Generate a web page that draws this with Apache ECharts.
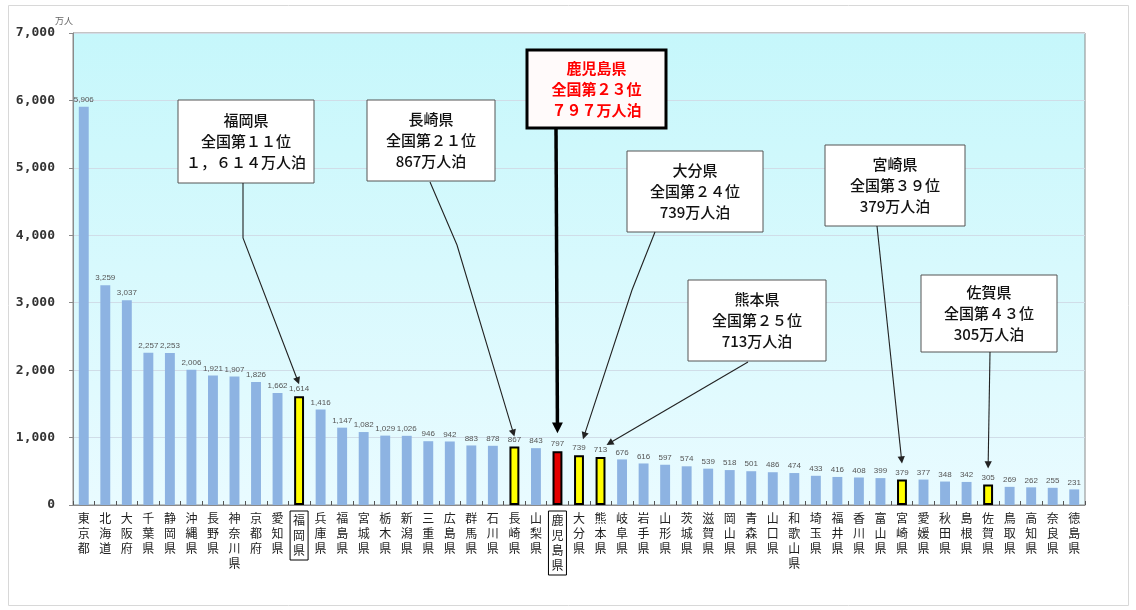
<!DOCTYPE html>
<html>
<head>
<meta charset="utf-8">
<script src="https://cdn.jsdelivr.net/npm/echarts@6/dist/echarts.min.js"></script>
<style>
  html, body { margin: 0; padding: 0; background: #ffffff; }
  #chart { width: 1136px; height: 610px; }
</style>
</head>
<body>
<div id="chart"></div>
<script>
// 都道府県別 延べ宿泊者数（万人泊）
const prefectures = [
  '東京都', '北海道', '大阪府', '千葉県', '静岡県', '沖縄県', '長野県', '神奈川県', '京都府', '愛知県',
  '福岡県', '兵庫県', '福島県', '宮城県', '栃木県', '新潟県', '三重県', '広島県', '群馬県', '石川県',
  '長崎県', '山梨県', '鹿児島県', '大分県', '熊本県', '岐阜県', '岩手県', '山形県', '茨城県', '滋賀県',
  '岡山県', '青森県', '山口県', '和歌山県', '埼玉県', '福井県', '香川県', '富山県', '宮崎県', '愛媛県',
  '秋田県', '島根県', '佐賀県', '鳥取県', '高知県', '奈良県', '徳島県'
];
const guestNights = [
  5906, 3259, 3037, 2257, 2253, 2006, 1921, 1907, 1826, 1662,
  1614, 1416, 1147, 1082, 1029, 1026, 946, 942, 883, 878,
  867, 843, 797, 739, 713, 676, 616, 597, 574, 539,
  518, 501, 486, 474, 433, 416, 408, 399, 379, 377,
  348, 342, 305, 269, 262, 255, 231
];
const yTicks = [0, 1000, 2000, 3000, 4000, 5000, 6000, 7000];

// 九州の県（吹き出しで強調）
const kyushuPrefs = ['福岡県', '長崎県', '鹿児島県', '大分県', '熊本県', '宮崎県', '佐賀県'];
const mainPref = '鹿児島県';
const boxedLabels = ['福岡県', '鹿児島県'];

const BAR_COLOR = '#8db3e2';
const FONT = '"Noto Sans CJK JP", "Noto Sans", sans-serif';

function toFullWidth(s) {
  return String(s).replace(/[0-9]/g, d => String.fromCharCode(d.charCodeAt(0) + 0xFEE0)).replace(/,/g, '，');
}
function comma(v) { return v.toLocaleString('en-US'); }

const barData = guestNights.map((v, i) => {
  const name = prefectures[i];
  if (name === mainPref) {
    return { value: v, itemStyle: { color: '#e30000', borderColor: '#000', borderWidth: 2 } };
  }
  if (kyushuPrefs.includes(name)) {
    return { value: v, itemStyle: { color: '#ffff00', borderColor: '#000', borderWidth: 2 } };
  }
  return v;
});

const categoryData = prefectures.map(p => {
  const item = { value: p };
  if (boxedLabels.includes(p)) {
    item.textStyle = { borderColor: '#000', borderWidth: 1, padding: [2, 3, 2, 3] };
  }
  return item;
});

const chart = echarts.init(document.getElementById('chart'), null, { renderer: 'canvas' });

chart.setOption({
  backgroundColor: '#ffffff',
  animation: false,
  grid: {
    left: 73, right: 51, top: 33, bottom: 105,
    show: true,
    borderColor: '#8a8a8a', borderWidth: 1,
    backgroundColor: {
      type: 'linear', x: 0, y: 0, x2: 0, y2: 1,
      colorStops: [{ offset: 0, color: '#c6f7fb' }, { offset: 1, color: '#e9fbff' }]
    }
  },
  xAxis: {
    type: 'category',
    data: categoryData,
    axisLine: { show: true, lineStyle: { color: '#8a8a8a' } },
    axisTick: { show: true, inside: true, length: 4, lineStyle: { color: '#555' } },
    axisLabel: {
      interval: 0,
      fontFamily: FONT, fontSize: 12, lineHeight: 15, color: '#222',
      margin: 6,
      formatter: v => v.split('').join('\n')
    }
  },
  yAxis: {
    type: 'value',
    min: yTicks[0], max: yTicks[yTicks.length - 1], interval: 1000,
    name: '万人',
    nameLocation: 'end',
    nameGap: 8,
    nameTextStyle: { fontFamily: FONT, fontSize: 9, color: '#666', align: 'right', padding: [0, 0, 0, 0] },
    axisLine: { show: true, lineStyle: { color: '#8a8a8a' } },
    axisTick: { show: true, length: 4, lineStyle: { color: '#8a8a8a' } },
    axisLabel: {
      fontFamily: '"DejaVu Sans Mono", monospace', fontSize: 13, fontWeight: 'bold', color: '#333',
      margin: 18,
      formatter: v => comma(v)
    },
    splitLine: { show: true, lineStyle: { color: '#d0dde8', width: 1 } }
  },
  series: [{
    type: 'bar',
    data: barData,
    barWidth: '46%',
    itemStyle: { color: BAR_COLOR },
    label: {
      show: true, position: 'top', distance: 3,
      fontFamily: '"Liberation Sans", Arial, sans-serif', fontSize: 8, color: '#555',
      formatter: p => comma(p.value)
    }
  }]
});

// 吹き出し（ボックス位置と矢印の折れ点はレイアウト用の定数）
const callouts = [
  { pref: '福岡県', box: [178, 100, 136, 83], from: [243, 183], bend: [243, 238], lift: 12, wide: true },
  { pref: '長崎県', box: [367, 100, 128, 81], from: [430, 182], bend: [457, 245], lift: 10 },
  { pref: '鹿児島県', box: [527, 50, 139, 78], from: [556, 129], lift: 18, main: true, wide: true },
  { pref: '大分県', box: [627, 151, 136, 81], from: [655, 232], bend: [632, 290], lift: 16, dx: 4 },
  { pref: '熊本県', box: [688, 280, 138, 81], from: [748, 362], lift: 12, dx: 6 },
  { pref: '宮崎県', box: [825, 145, 140, 81], from: [877, 226], lift: 16 },
  { pref: '佐賀県', box: [921, 275, 136, 77], from: [990, 352], lift: 16 }
];

function arrowHead(tip, prev, size, color) {
  const ang = Math.atan2(tip[1] - prev[1], tip[0] - prev[0]);
  const a1 = ang + Math.PI * 0.85, a2 = ang - Math.PI * 0.85;
  return {
    type: 'polygon', silent: true, z: 20,
    shape: { points: [tip, [tip[0] + size * Math.cos(a1), tip[1] + size * Math.sin(a1)], [tip[0] + size * Math.cos(a2), tip[1] + size * Math.sin(a2)]] },
    style: { fill: color }
  };
}

const graphics = [];
callouts.forEach(c => {
  const idx = prefectures.indexOf(c.pref);
  const val = guestNights[idx];
  const rank = idx + 1;
  const barTop = chart.convertToPixel({ xAxisIndex: 0, yAxisIndex: 0 }, [idx, val]);
  const tip = [barTop[0] + (c.dx || 0), barTop[1] - c.lift];
  const valText = c.wide ? toFullWidth(comma(val)) : String(val);
  const text = c.pref + '\n全国第' + toFullWidth(rank) + '位\n' + valText + '万人泊';
  const [bx, by, bw, bh] = c.box;
  const color = c.main ? '#000' : '#222';
  const lw = c.main ? 3.5 : 1.1;

  graphics.push({
    type: 'rect', z: 10, silent: true,
    shape: { x: bx, y: by, width: bw, height: bh },
    style: { fill: c.main ? '#fffafa' : '#ffffff', stroke: c.main ? '#000' : '#555', lineWidth: c.main ? 3 : 1 }
  });
  graphics.push({
    type: 'text', z: 11, silent: true,
    x: bx + bw / 2, y: by + bh / 2,
    style: {
      text: text, align: 'center', verticalAlign: 'middle',
      font: (c.main ? 'bold ' : '500 ') + '15px ' + FONT,
      lineHeight: 21,
      fill: c.main ? '#ff0000' : '#111'
    }
  });
  const pts = [c.from];
  if (c.bend) pts.push(c.bend);
  const last = pts[pts.length - 1];
  const ang = Math.atan2(tip[1] - last[1], tip[0] - last[0]);
  const headLen = c.main ? 12 : 8;
  const lineEnd = [tip[0] - headLen * 0.7 * Math.cos(ang), tip[1] - headLen * 0.7 * Math.sin(ang)];
  pts.push(lineEnd);
  graphics.push({
    type: 'polyline', z: 19, silent: true,
    shape: { points: pts },
    style: { stroke: color, lineWidth: lw, fill: null }
  });
  graphics.push(arrowHead(tip, last, headLen, color));
});

// 外枠
graphics.push({
  type: 'rect', z: 0, silent: true,
  shape: { x: 8.5, y: 5.5, width: 1120, height: 600 },
  style: { fill: null, stroke: '#d8d8d8', lineWidth: 1 }
});

chart.setOption({ graphic: graphics });
</script>
</body>
</html>
